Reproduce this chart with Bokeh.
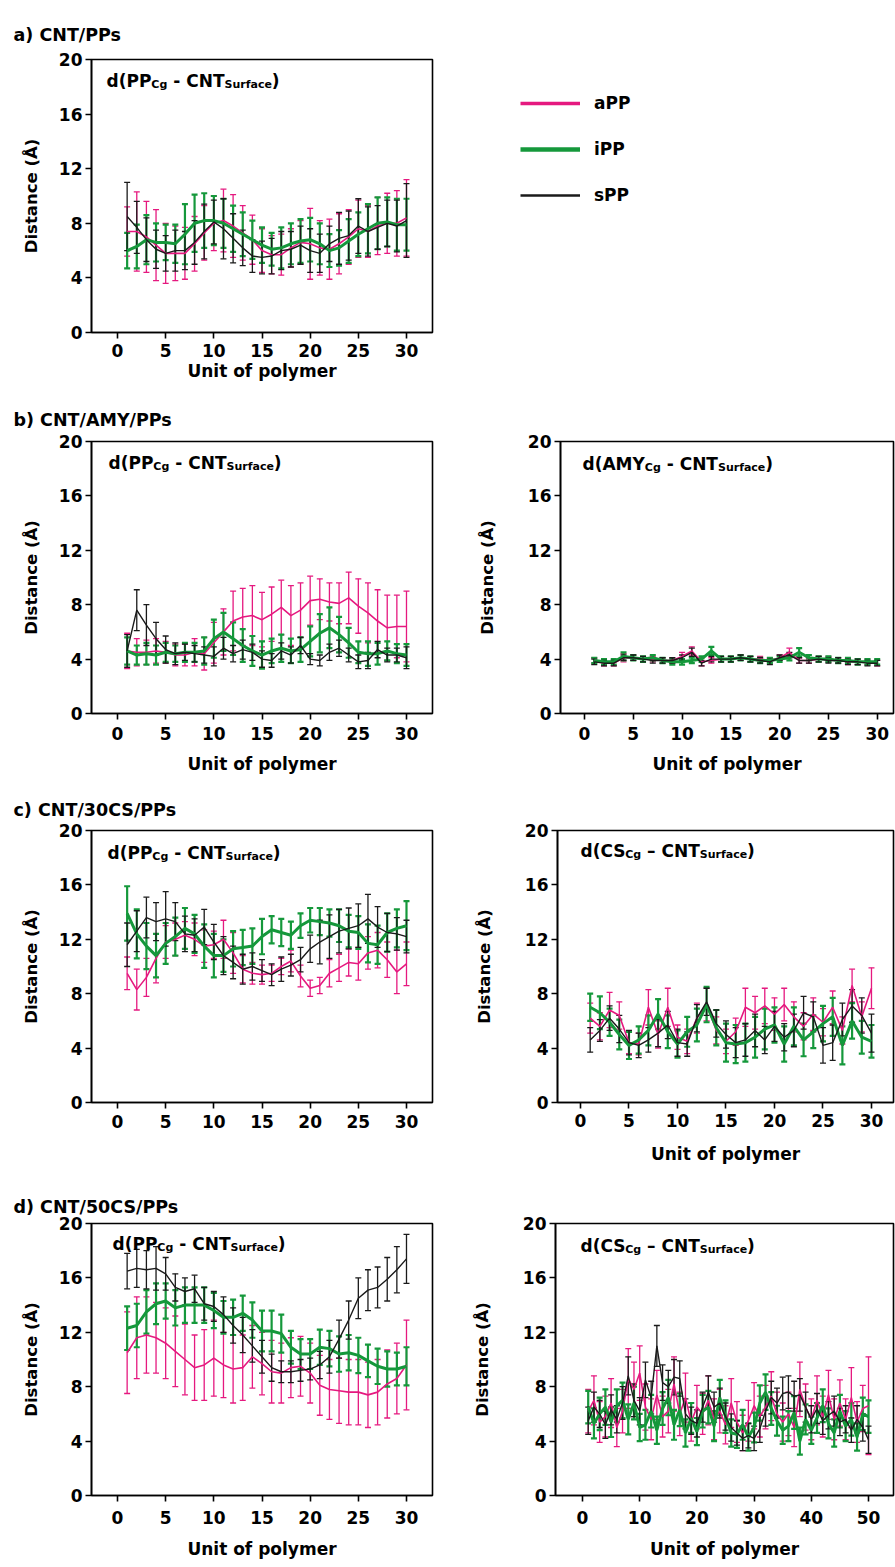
from bokeh.plotting import figure
from bokeh.layouts import column, row
from bokeh.models import (ColumnDataSource, Whisker, TeeHead, Label, Range1d,
                          FixedTicker, Legend, LegendItem, Title)
from bokeh.embed import file_html
from bokeh.resources import INLINE

# ---------------------------------------------------------------- data
units_30 = list(range(1, 31))
units_50 = list(range(1, 51))
x_ticks_30 = [0, 5, 10, 15, 20, 25, 30]
x_ticks_50 = [0, 10, 20, 30, 40, 50]
y_ticks = [0, 4, 8, 12, 16, 20]
series_names = ["aPP", "iPP", "sPP"]

# a) CNT/PPs : d(PP_Cg - CNT_Surface)
a_aPP = [7.4, 7.4, 7.0, 6.4, 5.8, 5.8, 5.8, 6.5, 7.3, 8.0, 8.2, 7.8, 7.3, 6.8, 6.0,
         5.7, 5.7, 6.2, 6.6, 6.5, 6.2, 6.1, 6.5, 7.0, 7.6, 7.4, 7.8, 8.0, 8.0, 8.4]
a_aPP_err = [1.8, 2.9, 2.6, 2.6, 2.2, 2.0, 1.9, 2.0, 2.0, 2.0, 2.3, 2.3, 2.0, 1.8, 1.6,
             1.4, 1.5, 1.4, 1.6, 2.6, 2.0, 2.2, 2.2, 2.0, 2.1, 1.9, 2.1, 2.2, 2.4, 2.8]
a_iPP = [6.0, 6.3, 6.8, 6.6, 6.6, 6.5, 7.2, 8.0, 8.2, 8.2, 8.0, 7.6, 7.2, 6.8, 6.4,
         6.1, 6.2, 6.5, 6.7, 6.8, 6.5, 6.0, 6.2, 6.7, 7.2, 7.6, 8.0, 8.1, 7.9, 7.9]
a_iPP_err = [1.3, 1.6, 1.8, 1.4, 1.3, 1.4, 2.2, 2.1, 2.0, 1.8, 1.8, 1.7, 1.6, 1.4, 1.3,
             1.2, 1.5, 1.5, 1.6, 1.6, 1.5, 1.2, 1.3, 1.6, 1.6, 1.8, 1.9, 1.8, 1.9, 1.9]
a_sPP = [8.5, 7.7, 6.8, 6.1, 5.8, 6.0, 6.0, 6.6, 7.4, 8.1, 7.6, 6.9, 6.2, 5.6, 5.5,
         5.6, 6.0, 6.1, 6.4, 6.0, 5.8, 6.5, 6.9, 7.1, 7.8, 7.4, 7.7, 8.0, 7.8, 8.2]
a_sPP_err = [2.5, 1.9, 1.6, 1.4, 1.3, 1.5, 1.4, 1.6, 2.0, 1.6, 2.2, 1.8, 1.3, 1.2, 1.2,
             1.3, 1.4, 1.3, 1.4, 1.6, 1.4, 1.3, 1.9, 1.8, 2.0, 1.8, 1.6, 1.7, 1.9, 2.7]

# b) CNT/AMY/PPs : d(PP_Cg - CNT_Surface)
b_aPP = [4.6, 4.5, 4.5, 4.6, 4.5, 4.3, 4.3, 4.5, 4.4, 5.2, 6.0, 6.8, 7.1, 7.2, 6.9,
         7.3, 7.8, 7.2, 7.6, 8.3, 8.4, 8.2, 8.1, 8.5, 7.9, 7.4, 6.8, 6.3, 6.4, 6.4]
b_aPP_err = [1.3, 1.0, 0.9, 0.9, 0.8, 0.8, 0.8, 1.0, 1.2, 1.5, 1.7, 2.2, 2.1, 2.2, 2.0,
             2.0, 2.0, 2.2, 2.0, 1.8, 1.5, 1.4, 1.5, 1.9, 2.0, 2.2, 2.3, 2.4, 2.3, 2.6]
b_iPP = [4.6, 4.3, 4.4, 4.3, 4.5, 4.4, 4.5, 4.5, 4.6, 5.5, 6.0, 5.5, 5.0, 4.6, 4.3,
         4.6, 4.8, 4.6, 4.7, 5.3, 5.9, 6.3, 5.8, 5.2, 4.5, 4.4, 4.4, 4.6, 4.4, 4.3]
b_iPP_err = [1.0, 0.7, 0.8, 0.7, 0.7, 0.6, 0.7, 0.7, 1.0, 1.4, 1.4, 1.2, 1.2, 1.1, 1.0,
             0.9, 1.0, 0.9, 0.9, 1.1, 1.4, 1.5, 1.3, 1.1, 0.8, 0.9, 0.8, 0.7, 0.7, 0.8]
b_sPP = [4.6, 7.6, 6.5, 5.5, 4.7, 4.4, 4.5, 4.4, 4.3, 4.2, 4.8, 4.4, 4.7, 4.5, 4.0,
         3.9, 4.6, 4.3, 5.0, 4.0, 3.9, 4.5, 4.8, 4.3, 3.8, 3.9, 4.7, 4.3, 4.3, 4.1]
b_sPP_err = [1.2, 1.5, 1.5, 1.2, 1.0, 0.8, 0.6, 0.6, 0.6, 0.7, 0.8, 0.6, 0.7, 0.6, 0.6,
             0.5, 0.6, 0.6, 0.6, 0.4, 0.4, 0.6, 0.6, 0.5, 0.5, 0.6, 0.6, 0.5, 0.5, 0.8]

# b) CNT/AMY/PPs : d(AMY_Cg - CNT_Surface)
bam_aPP = [3.9, 3.7, 3.7, 4.1, 4.1, 4.0, 4.0, 3.9, 3.9, 4.2, 4.6, 3.8, 3.9, 4.0, 4.0,
           4.1, 4.0, 4.0, 3.9, 4.1, 4.5, 3.9, 3.9, 4.0, 4.0, 3.9, 3.8, 3.8, 3.8, 3.7]
bam_aPP_err = [0.2, 0.2, 0.2, 0.3, 0.2, 0.2, 0.2, 0.2, 0.2, 0.3, 0.3, 0.3, 0.2, 0.2, 0.2,
               0.2, 0.2, 0.2, 0.2, 0.2, 0.3, 0.2, 0.2, 0.2, 0.2, 0.2, 0.2, 0.2, 0.2, 0.2]
bam_iPP = [3.9, 3.8, 3.8, 4.2, 4.1, 4.0, 4.1, 3.9, 3.8, 3.8, 3.9, 4.0, 4.6, 4.0, 4.0,
           4.1, 4.0, 3.9, 3.9, 4.0, 4.1, 4.5, 4.1, 4.0, 4.0, 3.9, 3.9, 3.8, 3.8, 3.8]
bam_iPP_err = [0.2, 0.2, 0.2, 0.3, 0.2, 0.2, 0.2, 0.2, 0.2, 0.2, 0.2, 0.2, 0.3, 0.2, 0.2,
               0.2, 0.2, 0.2, 0.2, 0.2, 0.2, 0.3, 0.2, 0.2, 0.2, 0.2, 0.2, 0.2, 0.2, 0.2]
bam_sPP = [3.8, 3.7, 3.7, 4.1, 4.1, 4.0, 3.9, 3.9, 3.9, 4.1, 4.5, 3.7, 4.0, 4.0, 4.0,
           4.1, 4.0, 3.9, 3.8, 4.1, 4.3, 3.9, 3.9, 4.0, 3.9, 3.9, 3.8, 3.8, 3.7, 3.7]
bam_sPP_err = [0.2, 0.2, 0.2, 0.2, 0.2, 0.2, 0.2, 0.2, 0.2, 0.2, 0.3, 0.2, 0.2, 0.2, 0.2,
               0.2, 0.2, 0.2, 0.2, 0.2, 0.2, 0.2, 0.2, 0.2, 0.2, 0.2, 0.2, 0.2, 0.2, 0.2]

# c) CNT/30CS/PPs : d(PP_Cg - CNT_Surface)
c_aPP = [9.5, 8.3, 9.2, 10.6, 11.8, 12.0, 12.3, 12.0, 11.5, 11.6, 12.0, 11.0, 9.8, 9.5, 9.4,
         9.5, 10.0, 10.4, 9.3, 8.4, 8.6, 9.5, 9.9, 10.3, 10.2, 11.0, 11.2, 10.5, 9.6, 10.2]
c_aPP_err = [1.2, 1.5, 1.4, 1.8, 1.2, 1.2, 1.0, 1.2, 1.2, 1.0, 1.4, 1.5, 1.0, 0.8, 0.7,
             0.6, 0.6, 0.8, 0.8, 0.6, 0.6, 1.0, 1.0, 1.0, 1.2, 1.2, 1.3, 1.3, 1.6, 1.6]
c_iPP = [13.9, 12.4, 11.5, 10.8, 11.7, 12.2, 12.8, 12.4, 11.5, 10.8, 10.8, 11.3, 11.4, 11.5, 12.2,
         12.7, 12.5, 12.3, 13.0, 13.4, 13.3, 13.2, 13.0, 12.6, 12.5, 11.7, 11.6, 12.5, 12.8, 13.0]
c_iPP_err = [2.0, 1.8, 1.7, 1.6, 1.5, 1.4, 1.5, 1.4, 1.6, 1.6, 1.2, 1.3, 1.3, 1.3, 1.3,
             1.0, 1.0, 1.0, 0.9, 0.9, 1.0, 1.0, 1.2, 1.2, 1.2, 1.4, 1.4, 1.4, 1.4, 1.8]
c_sPP = [11.6, 12.6, 13.6, 13.3, 13.5, 13.3, 12.4, 12.3, 12.9, 11.8, 10.8, 10.3, 9.8, 10.0, 9.7,
         9.4, 9.8, 10.1, 10.5, 11.3, 11.8, 12.2, 12.6, 12.8, 13.0, 13.5, 12.9, 12.5, 12.4, 12.2]
c_sPP_err = [1.6, 1.5, 1.5, 1.4, 2.0, 1.4, 1.3, 1.2, 1.3, 1.3, 1.4, 1.2, 1.1, 1.0, 0.8,
             0.8, 0.9, 0.8, 0.9, 1.0, 1.6, 1.6, 1.6, 1.5, 1.6, 1.8, 1.5, 1.4, 1.2, 1.2]

# c) CNT/30CS/PPs : d(CS_Cg - CNT_Surface)
ccs_aPP = [6.2, 5.6, 6.8, 6.4, 4.4, 4.3, 7.0, 5.0, 7.0, 4.8, 4.5, 6.2, 7.2, 5.3, 4.5,
           5.2, 7.0, 6.6, 7.1, 6.5, 7.2, 6.3, 5.6, 6.5, 5.9, 7.0, 5.3, 8.6, 6.3, 8.4]
ccs_aPP_err = [1.1, 1.0, 1.3, 1.0, 0.8, 0.8, 1.3, 1.0, 1.4, 0.9, 0.9, 1.1, 1.2, 1.0, 0.9,
               1.0, 1.4, 1.2, 1.3, 1.2, 1.2, 1.1, 1.0, 1.2, 1.0, 1.2, 1.0, 1.2, 1.1, 1.5]
ccs_iPP = [7.0, 6.6, 5.9, 5.0, 4.2, 4.6, 5.3, 6.5, 5.2, 4.3, 5.2, 5.7, 7.2, 5.5, 4.4,
           4.3, 4.4, 4.8, 5.4, 5.7, 4.3, 5.6, 4.6, 5.2, 5.8, 6.3, 4.2, 6.0, 4.8, 4.5]
ccs_iPP_err = [1.0, 1.2, 1.0, 1.1, 1.0, 1.0, 1.1, 1.1, 1.2, 1.0, 1.1, 1.2, 1.3, 1.3, 1.4,
               1.4, 1.4, 1.5, 1.5, 1.3, 1.3, 1.4, 1.2, 1.2, 1.3, 1.4, 1.4, 1.3, 1.2, 1.2]
ccs_sPP = [4.6, 5.3, 6.2, 5.4, 4.4, 4.2, 4.6, 5.1, 5.7, 4.4, 4.3, 6.2, 7.4, 5.8, 5.0,
           4.4, 4.6, 5.3, 4.6, 5.6, 4.8, 5.3, 6.6, 6.3, 4.2, 4.4, 6.1, 7.1, 6.4, 5.1]
ccs_sPP_err = [0.9, 0.8, 0.9, 1.0, 0.9, 0.9, 0.9, 1.0, 1.0, 1.0, 0.9, 1.0, 1.0, 1.0, 1.0,
               1.1, 1.2, 1.2, 1.0, 1.1, 1.0, 1.2, 1.2, 1.1, 1.3, 1.3, 1.2, 1.2, 1.3, 1.4]

# d) CNT/50CS/PPs : d(PP_Cg - CNT_Surface)
d_aPP = [10.5, 11.6, 11.8, 11.6, 11.2, 10.6, 10.0, 9.4, 9.6, 10.1, 9.6, 9.3, 9.4, 10.2, 9.7,
         9.1, 9.0, 9.4, 9.5, 9.0, 8.1, 7.8, 7.7, 7.6, 7.6, 7.4, 7.6, 8.2, 8.6, 9.6]
d_aPP_err = [3.0, 3.0, 2.8, 2.6, 2.6, 2.6, 2.6, 2.4, 2.6, 2.8, 2.4, 2.5, 2.4, 2.3, 2.3,
             2.3, 2.2, 2.2, 2.2, 2.2, 2.2, 2.2, 2.4, 2.4, 2.4, 2.4, 2.4, 2.5, 2.6, 3.3]
d_iPP = [12.3, 12.5, 13.5, 14.1, 14.3, 13.8, 14.0, 14.0, 14.0, 13.6, 13.1, 13.1, 13.4, 12.9, 12.1,
         12.1, 11.9, 10.9, 10.4, 10.4, 10.9, 10.8, 10.4, 10.5, 10.3, 9.9, 9.5, 9.3, 9.3, 9.5]
d_iPP_err = [1.6, 1.6, 1.6, 1.5, 1.3, 1.3, 1.3, 1.3, 1.3, 1.3, 1.2, 1.3, 1.3, 1.3, 1.5,
             1.5, 1.4, 1.2, 1.1, 1.1, 1.3, 1.3, 1.3, 1.3, 1.3, 1.2, 1.3, 1.3, 1.2, 1.4]
d_sPP = [16.5, 16.7, 16.6, 16.7, 16.3, 15.3, 15.0, 15.2, 14.1, 13.9, 13.3, 12.5, 11.8, 11.0, 10.2,
         9.4, 9.1, 9.1, 9.2, 9.3, 9.6, 10.2, 11.5, 12.9, 14.5, 15.1, 15.3, 15.9, 16.6, 17.4]
d_sPP_err = [1.3, 1.4, 1.4, 1.6, 1.2, 1.0, 1.0, 1.0, 1.2, 1.1, 1.3, 1.3, 1.3, 1.2, 1.2,
             1.0, 0.8, 0.8, 0.8, 0.8, 1.0, 1.2, 1.4, 1.4, 1.5, 1.5, 1.5, 1.6, 1.7, 1.8]

# d) CNT/50CS/PPs : d(CS_Cg - CNT_Surface)
dcs_aPP = [6.2, 7.0, 5.4, 5.8, 6.8, 5.0, 6.2, 8.6, 7.8, 9.0, 6.5, 5.6, 7.4, 5.8, 6.2,
           8.2, 6.0, 7.2, 5.4, 6.5, 6.0, 7.0, 5.6, 6.2, 5.2, 6.8, 5.4, 4.6, 5.5, 6.6,
           5.8, 6.5, 7.3, 6.0, 5.4, 6.0, 5.0, 7.8, 6.5, 5.6, 7.0, 5.8, 7.4, 5.6, 6.8,
           5.6, 7.2, 5.4, 6.4, 6.6]
dcs_aPP_err = [1.6, 1.8, 1.5, 1.5, 1.8, 1.4, 1.6, 2.2, 2.0, 2.0, 1.7, 1.5, 1.8, 1.5, 1.6,
               2.0, 1.6, 1.8, 1.4, 1.6, 1.5, 1.8, 1.5, 1.6, 1.4, 1.8, 1.5, 1.3, 1.5, 1.7,
               1.5, 1.6, 1.8, 1.6, 1.4, 1.6, 1.4, 2.0, 1.7, 1.5, 1.8, 1.5, 1.8, 1.5, 1.7,
               1.5, 2.2, 1.5, 1.7, 3.6]
dcs_iPP = [6.5, 5.3, 6.0, 6.5, 5.4, 6.6, 7.0, 5.6, 6.8, 5.0, 5.2, 6.2, 4.8, 6.4, 7.2,
           5.2, 6.3, 4.6, 5.7, 4.7, 6.2, 6.5, 5.1, 7.2, 5.8, 4.6, 4.5, 5.2, 4.3, 5.0,
           6.8, 7.6, 6.4, 5.5, 4.8, 5.1, 6.1, 4.0, 5.6, 4.8, 5.7, 6.6, 5.3, 4.6, 6.2,
           5.1, 5.6, 4.3, 6.0, 5.8]
dcs_iPP_err = [1.2, 1.1, 1.2, 1.3, 1.1, 1.2, 1.3, 1.1, 1.2, 1.0, 1.1, 1.2, 1.0, 1.2, 1.3,
               1.1, 1.2, 1.0, 1.1, 1.0, 1.2, 1.2, 1.1, 1.3, 1.2, 1.0, 1.0, 1.1, 1.0, 1.1,
               1.3, 1.3, 1.2, 1.1, 1.0, 1.1, 1.2, 1.0, 1.1, 1.0, 1.1, 1.2, 1.1, 1.0, 1.2,
               1.1, 1.2, 1.0, 1.2, 1.2]
dcs_sPP = [5.5, 6.5, 6.0, 5.2, 6.3, 5.6, 6.8, 8.8, 7.0, 6.2, 8.5, 7.2, 11.0, 8.3, 8.0,
           8.7, 8.6, 6.0, 5.5, 5.3, 6.5, 7.6, 6.5, 6.8, 5.8, 5.0, 4.6, 4.2, 4.4, 4.2,
           4.9, 6.2, 7.2, 6.8, 7.5, 7.6, 7.3, 7.4, 6.5, 5.6, 6.4, 5.5, 5.9, 6.2, 5.4,
           5.6, 4.8, 5.6, 5.0, 4.1]
dcs_sPP_err = [1.0, 1.1, 1.0, 1.0, 1.1, 1.0, 1.2, 1.4, 1.2, 1.0, 1.3, 1.2, 1.5, 1.3, 1.2,
               1.3, 1.3, 1.1, 1.0, 1.0, 1.1, 1.2, 1.1, 1.1, 1.0, 1.0, 0.9, 0.9, 0.9, 0.9,
               1.0, 1.1, 1.2, 1.1, 1.2, 1.2, 1.1, 1.2, 1.1, 1.0, 1.1, 1.0, 1.0, 1.1, 1.0,
               1.0, 0.9, 1.0, 1.0, 1.0]

# ---------------------------------------------------------------- style
FONT = "DejaVu Sans"
COLORS = {"aPP": "#E5197F", "iPP": "#15983B", "sPP": "#1A1A1A"}
LINE_W = {"aPP": 1.6, "iPP": 3.0, "sPP": 1.4}
BAR_W = {"aPP": 1.3, "iPP": 2.2, "sPP": 1.3}
LEG_W = {"aPP": 3.5, "iPP": 4.5, "sPP": 2.5}
DRAW_ORDER = ["aPP", "iPP", "sPP"]

# approximate advance widths (em) of DejaVu Sans Bold, used to chain title pieces
EM = {' ': 0.348, '(': 0.457, ')': 0.457, '-': 0.415, '\u2013': 0.5, 'A': 0.774,
      'C': 0.734, 'M': 0.995, 'N': 0.837, 'P': 0.733, 'S': 0.720, 'T': 0.682,
      'Y': 0.724, 'a': 0.675, 'c': 0.593, 'd': 0.716, 'e': 0.678, 'f': 0.435,
      'g': 0.716, 'r': 0.493, 'u': 0.712}
MAIN_SZ, SUB_SZ, SUB_DROP = 17, 11, 4


def text_w(s, size):
    return sum(EM.get(ch, 0.6) for ch in s) * size


def inner_title(p, xr, mol, dash, dx, dy):
    pieces = [("d(" + mol, False, 0.0), ("Cg", True, 0.0),
              (dash + " CNT", False, EM[' ']), ("Surface", True, 0.0), (")", False, 0.0)]
    x = dx
    for txt, sub, gap in pieces:
        size = SUB_SZ if sub else MAIN_SZ
        x += gap * MAIN_SZ
        p.add_layout(Label(x=xr[0], y=20, x_offset=x,
                           y_offset=-(dy + (SUB_DROP if sub else 0)), text=txt,
                           text_font=FONT, text_font_style="bold",
                           text_font_size=f"{size}px", text_color="black",
                           text_baseline="alphabetic", text_align="left"))
        x += text_w(txt, size)


def panel(w, h, left, right, top, bottom, xr, xticks, units, data,
          mol, dash, title_dx, title_dy, ylab_standoff, xlab_standoff=None,
          tick_standoff=6, panel_title=None, ptitle_standoff=10):
    p = figure(width=w, height=h, x_range=Range1d(*xr), y_range=Range1d(0, 20),
               min_border_left=left, min_border_right=right,
               min_border_top=top, min_border_bottom=bottom,
               output_backend="svg", toolbar_location=None, tools="", title=None)
    p.xgrid.visible = False
    p.ygrid.visible = False
    p.background_fill_color = "white"
    p.border_fill_color = "white"
    p.outline_line_color = "black"
    p.outline_line_width = 1.6
    p.outline_line_alpha = 1.0
    p.xaxis.ticker = FixedTicker(ticks=xticks)
    p.yaxis.ticker = FixedTicker(ticks=y_ticks)
    for ax in (p.xaxis, p.yaxis):
        ax.axis_line_width = 1.6
        ax.axis_line_color = "black"
        ax.major_tick_line_width = 1.6
        ax.major_tick_line_color = "black"
        ax.major_tick_out = 6
        ax.major_tick_in = 0
        ax.minor_tick_out = 0
        ax.minor_tick_in = 0
        ax.major_label_text_font = FONT
        ax.major_label_text_font_style = "bold"
        ax.major_label_text_font_size = "17px"
        ax.major_label_text_color = "black"
        ax.axis_label_text_font = FONT
        ax.axis_label_text_font_style = "bold"
        ax.axis_label_text_color = "black"
    p.yaxis.major_label_standoff = 3
    p.xaxis.major_label_standoff = tick_standoff
    p.yaxis.axis_label = "Distance (\u00c5)"
    p.yaxis.axis_label_text_font_size = "16.5px"
    p.yaxis.axis_label_standoff = ylab_standoff
    if xlab_standoff is not None:
        p.xaxis.axis_label = "Unit of polymer"
        p.xaxis.axis_label_text_font_size = "17px"
        p.xaxis.axis_label_standoff = xlab_standoff

    for name in DRAW_ORDER:
        mean, err = data[name]
        src = ColumnDataSource(dict(x=units, y=mean,
                                    lo=[m - e for m, e in zip(mean, err)],
                                    up=[m + e for m, e in zip(mean, err)]))
        c = COLORS[name]
        bw = BAR_W[name]
        p.add_layout(Whisker(source=src, base="x", lower="lo", upper="up",
                             line_color=c, line_width=bw,
                             upper_head=TeeHead(size=6, line_color=c, line_width=bw),
                             lower_head=TeeHead(size=6, line_color=c, line_width=bw)))
        p.line("x", "y", source=src, line_color=c, line_width=LINE_W[name])

    inner_title(p, xr, mol, dash, title_dx, title_dy)
    if panel_title is not None:
        p.add_layout(Title(text=panel_title, align="left", offset=13 - left,
                           standoff=ptitle_standoff, text_font=FONT,
                           text_font_style="bold", text_font_size="17.5px",
                           text_color="black"), "above")
    return p


def pack(a, i, s):
    return {"aPP": a, "iPP": i, "sPP": s}


XR_LEFT = (-2.70, 32.70)

pa_data = pack((a_aPP, a_aPP_err), (a_iPP, a_iPP_err), (a_sPP, a_sPP_err))
pa = panel(450, 385, 91, 18, 59, 53, XR_LEFT, x_ticks_30, units_30, pa_data,
           "PP", "-", 15, 21, 15, xlab_standoff=1, tick_standoff=5,
           panel_title="a) CNT/PPs", ptitle_standoff=29)

# legend panel (sample lines taken from the panel-a series, renderers hidden);
# its borders match panel a so the row keeps panel a's frame where it is
LEG_MARGIN = 34
leg = figure(width=445, height=385, x_range=Range1d(0, 31), y_range=Range1d(0, 20),
             x_axis_location=None, y_axis_location=None,
             min_border_left=70 - LEG_MARGIN, min_border_top=59, min_border_right=0,
             min_border_bottom=53, outline_line_color=None, toolbar_location=None,
             tools="", output_backend="svg", title=None)
leg.xgrid.visible = False
leg.ygrid.visible = False
items = []
for name in series_names:
    mean = pa_data[name][0]
    r = leg.line(x=units_30, y=mean, line_color=COLORS[name], line_width=LEG_W[name])
    r.visible = False
    items.append(LegendItem(label=name, renderers=[r]))
legend = Legend(items=items, location="top_left", orientation="vertical",
                glyph_width=60, glyph_height=20, label_height=20, spacing=26,
                padding=0, margin=LEG_MARGIN, label_standoff=14, border_line_color=None,
                background_fill_alpha=0, inactive_fill_alpha=0,
                label_text_font=FONT, label_text_color="black",
                label_text_font_style="bold", label_text_font_size="17px")
leg.add_layout(legend)

pbl = panel(450, 401, 91, 18, 56, 71, XR_LEFT, x_ticks_30, units_30,
            pack((b_aPP, b_aPP_err), (b_iPP, b_iPP_err), (b_sPP, b_sPP_err)),
            "PP", "-", 17, 21, 15, xlab_standoff=11, tick_standoff=7,
            panel_title="b) CNT/AMY/PPs", ptitle_standoff=24)
pbr = panel(445, 401, 110, 2, 53, 73, (-2.46, 31.67), x_ticks_30, units_30,
            pack((bam_aPP, bam_aPP_err), (bam_iPP, bam_iPP_err), (bam_sPP, bam_sPP_err)),
            "AMY", "-", 22, 22, 28, xlab_standoff=11, tick_standoff=7)

pcl = panel(450, 396, 91, 18, 44, 76, XR_LEFT, x_ticks_30, units_30,
            pack((c_aPP, c_aPP_err), (c_iPP, c_iPP_err), (c_sPP, c_sPP_err)),
            "PP", "-", 16, 22, 15, xlab_standoff=None, tick_standoff=6,
            panel_title="c) CNT/30CS/PPs", ptitle_standoff=22)
pcr = panel(445, 396, 107, 2, 41, 80, (-2.37, 32.27), x_ticks_30, units_30,
            pack((ccs_aPP, ccs_aPP_err), (ccs_iPP, ccs_iPP_err), (ccs_sPP, ccs_sPP_err)),
            "CS", "\u2013", 23, 20, 28, xlab_standoff=14, tick_standoff=5)

pdl = panel(450, 385, 91, 18, 41, 72, XR_LEFT, x_ticks_30, units_30,
            pack((d_aPP, d_aPP_err), (d_iPP, d_iPP_err), (d_sPP, d_sPP_err)),
            "PP", "-", 21, 20, 15, xlab_standoff=12, tick_standoff=9,
            panel_title="d) CNT/50CS/PPs", ptitle_standoff=14)
pdr = panel(445, 385, 105, 2, 41, 72, (-4.72, 54.37), x_ticks_50, units_50,
            pack((dcs_aPP, dcs_aPP_err), (dcs_iPP, dcs_iPP_err), (dcs_sPP, dcs_sPP_err)),
            "CS", "\u2013", 25, 22, 28, xlab_standoff=12, tick_standoff=9)

layout = column(row(pa, leg, spacing=0), row(pbl, pbr, spacing=0),
                row(pcl, pcr, spacing=0), row(pdl, pdr, spacing=0), spacing=0)

open("out.html", "w").write(file_html(layout, INLINE))
